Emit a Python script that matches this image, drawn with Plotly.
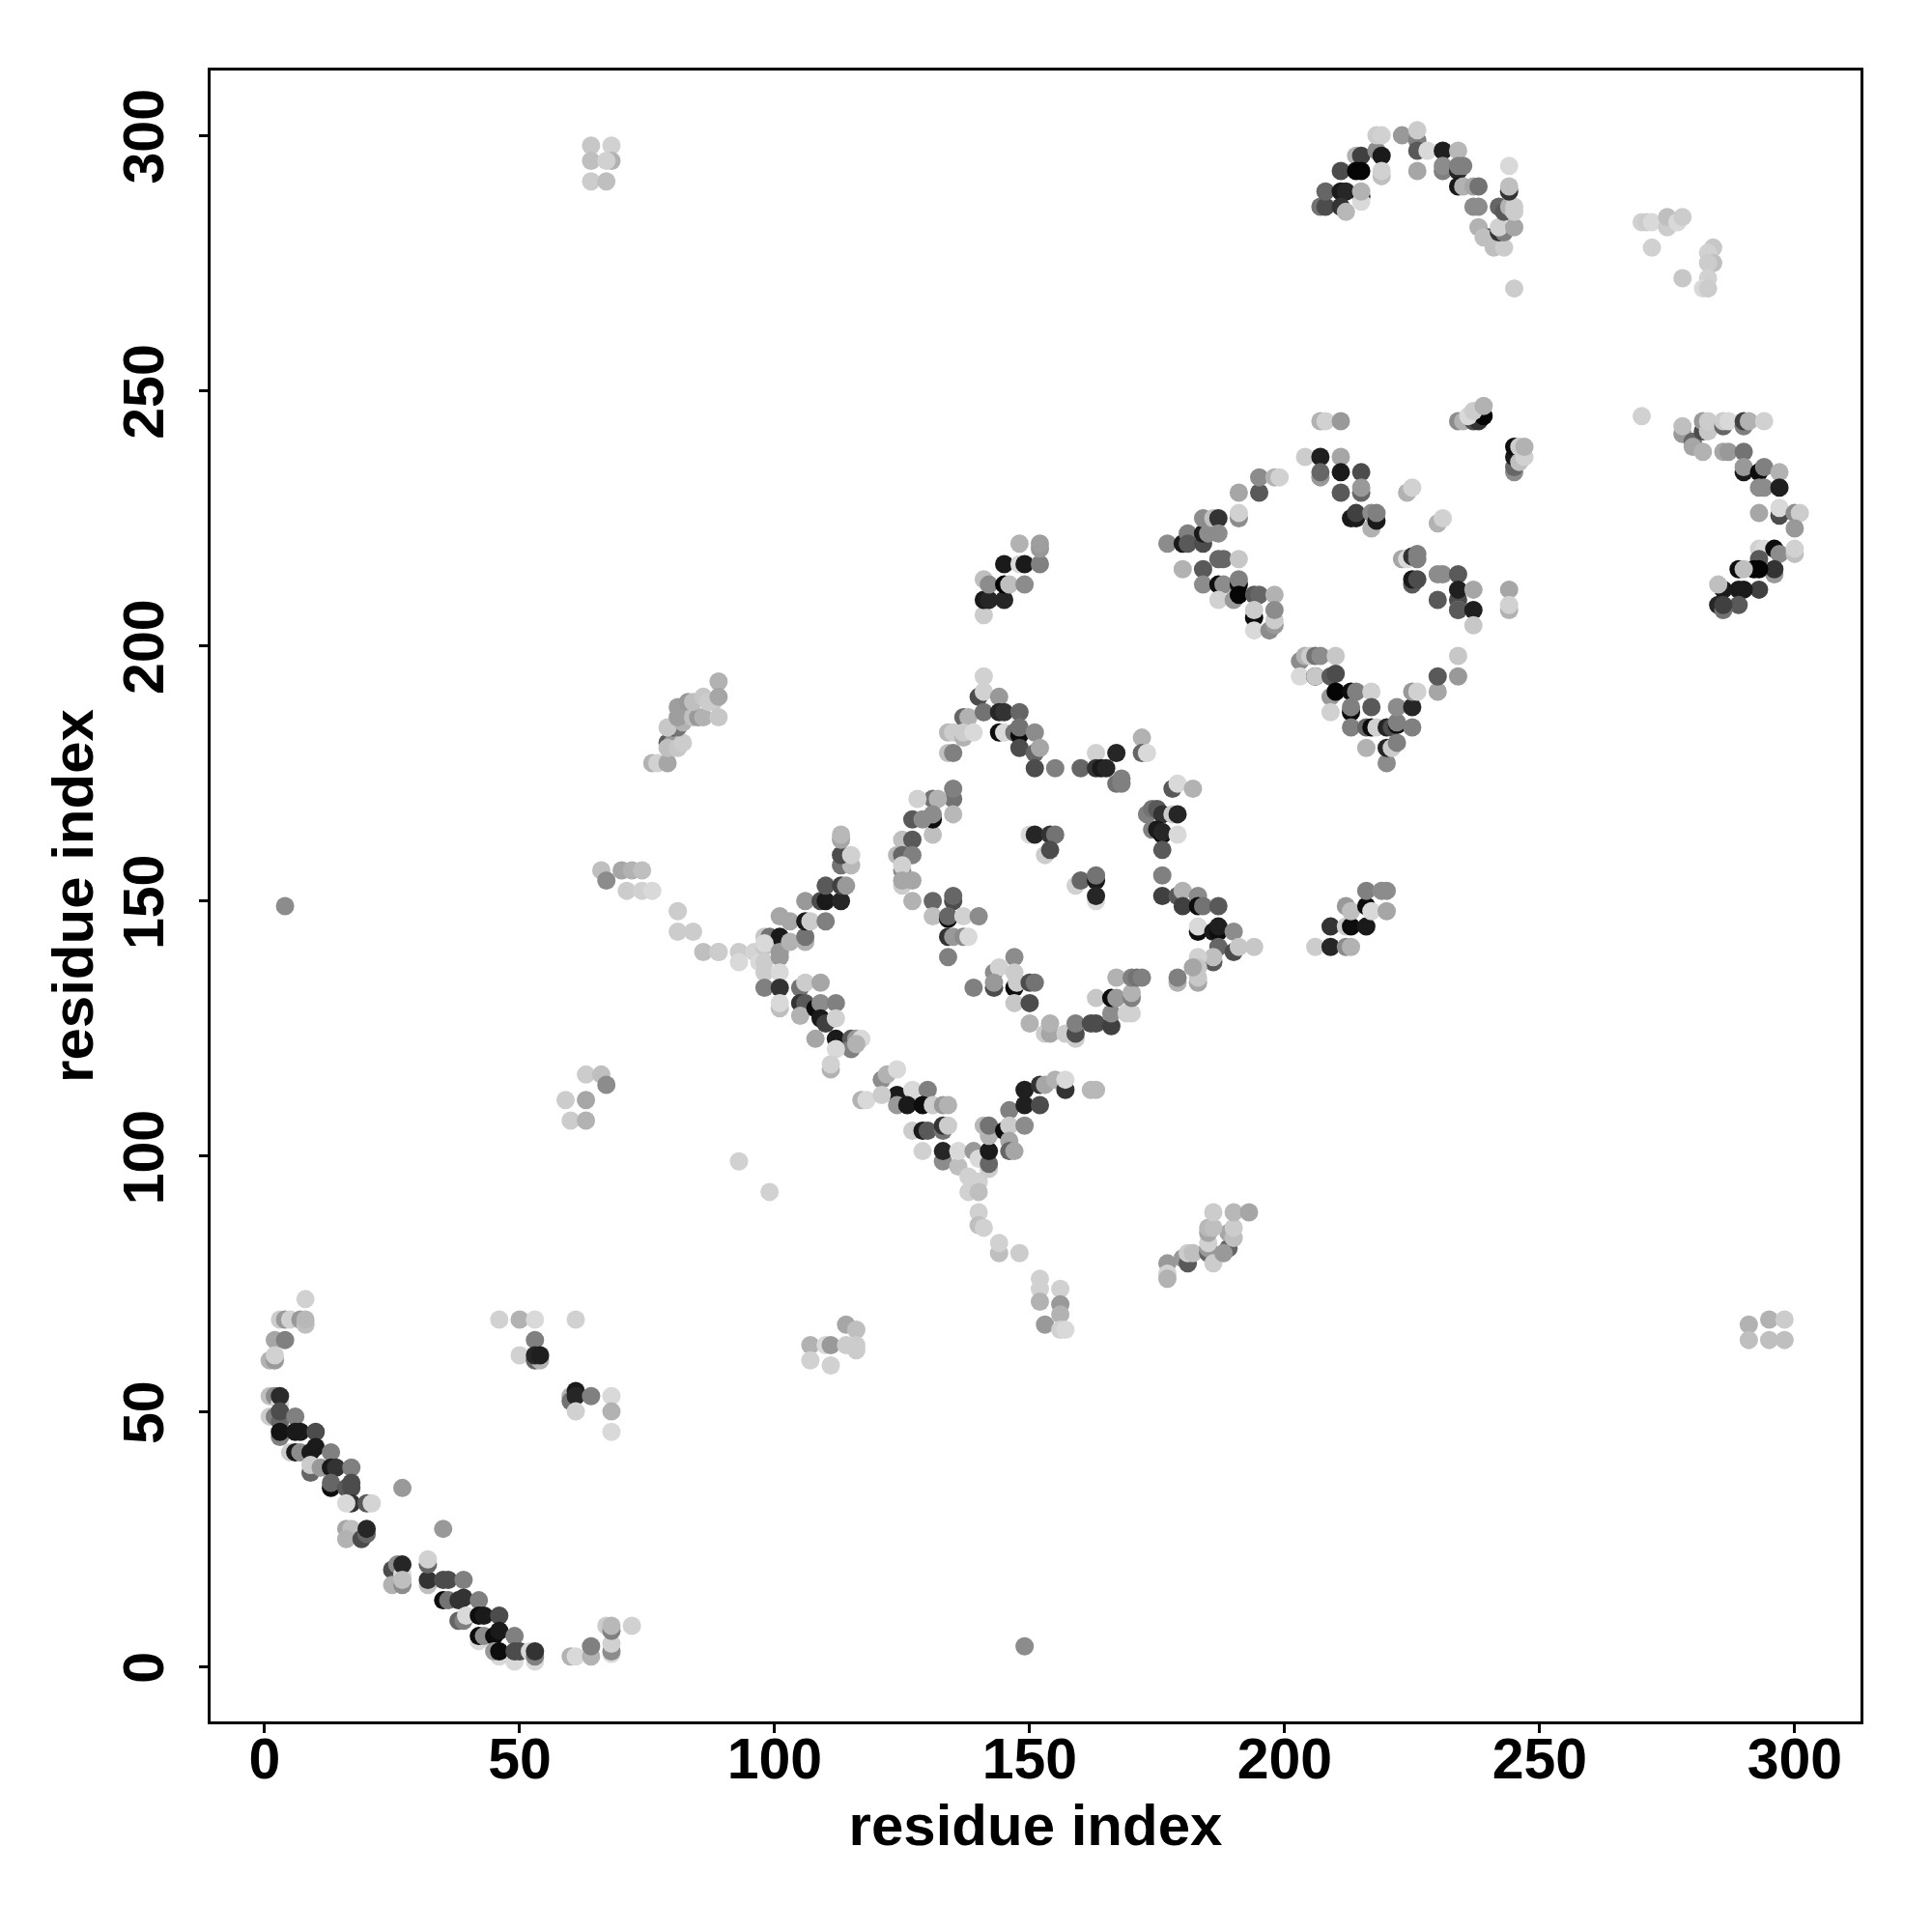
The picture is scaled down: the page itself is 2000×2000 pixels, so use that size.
import plotly.graph_objects as go

# each contact: (residue i, residue j, shade 0=black .. 1=white)
strand_low = [(8,72,.82),(3,68,.8),(4,68,.6),(5,68,.82),(7,68,.6),(8,67,.75),(8,68,.72),(2,64,.65),(4,64,.5),(1,60,.7),(2,60,.6),(2,61,.82),
(1,53,.75),(2,53,.55),(3,51.5,.85),(3,53,.17),(1,49,.8),(2,49,.5),(3,48,.4),(3,50,.3),(6,49,.5),(3,45,.5),(3,46,.08),(6,46,.1),(7,46,.1),(10,46,.3),
(5,42,.8),(6,42,.1),(7,42,.55),(9,42,.1),(10,43,.1),(13,42,.5),(9,38,.4),(9,39.5,.8),(11,39,.6),(13,39,.1),(14,39,.2),(17,39,.5),
(13,35,.05),(13,36,.4),(16,35,.35),(17,35,.3),(17,36,.3),(17,32,.2),(16,32,.85),(20,32,.35),(21,32,.83),(27,35,.6),(35,27,.6),
(16,27,.65),(17,27,.75),(16,25,.7),(19,25,.3),(20,26,.4),(20,27,.15),(25,19,.3),(26,20,.55),(27,18,.85),(27,20,.15),(25,16,.7),(27,16,.55),(27,17,.75),
(32,16,.75),(32,17,.2),(32,20,.4),(32,21,.82),(35,17,.3),(36,17,.3),(39,17,.5),(35,13,.05),(36,13,.45),(38,13,.2),(39,13.5,.2),(42,13,.5),
(38,9,.4),(39,9,.5),(39.5,10,.85),(42,10,.05),(43,10,.1),(46,10,.3),(42,5,.85),(42,6,.05),(43,6,.55),(45,6,.05),(46,7,.1),(49,6,.5),
(46,2,.85),(45,3,.6),(46,3,.05),(49,1,.85),(49,3,.3),(50,3,.3),(52,3,.85),(53,1,.85),(53,2,.5),(53,3,.2),
(60,2,.7),(61,2,.85),(64,2,.7),(64,4,.5),(67,8,.8),(68,2.5,.85),(68,3,.55),(68,4.5,.82),(68,7,.5),(68,8,.72),(72,8,.82)]
patch_low = [(46,68,.82),(50,68,.7),(53,68,.85),(61,68,.82),(53,64,.5),(50,61,.82),(53,60,.4),(54,60,.7),(53,61,.15),(54,61,.12),
(60,53,.7),(60,52,.45),(61,54,.1),(61,53,.15),(64,53,.5),(61,50,.82),(68,53,.85),(68,50,.7),(68,46,.85)]
isolated = [(4,149,.55),(149,4,.55),(93,99,.82),(99,93,.82),(245,270,.8),(270,245,.82)]
left_corners = [(64,298,.78),(64,295,.75),(64,291,.8),(68,298,.82),(68,295,.7),(67,291,.75),(67,295,.82),
(59,111,.8),(60,107,.8),(63,107,.7),(63,111,.65),(63,116,.8),(66,116,.75),(67,114,.55),
(291,67,.7),(291,64,.75),(295,64,.75),(295,68,.7),(298,68,.8),(298,64,.75),
(107,63,.7),(110,63,.85),(111,63,.6),(114,67,.65),(116,66,.75),(114,63,.8),(116,62,.8),(116,63,.8),(107,60,.82),(111,59,.82)]
chain_a = [(66,156,.75),(67,154,.55),(70,156,.65),(72,156,.7),(74,156,.75),(71,152,.8),(74,152,.82),(76,152,.85),(81,148,.8),(81,144,.8),(84,144,.8),(86,140,.75),(89,140,.8),
(76,177,.7),(77,177,.82),(79,177,.65),(79,181,.35),(80,181,.6),(79,180,.75),(81,180,.78),(82,181,.8),(80,184,.35),(81,184,.45),(79,184,.78),(82,185,.7),
(81,188,.62),(81,186,.62),(83,189,.6),(84,186,.75),(85,186,.6),(84,189,.75),(86,186,.7),(86,190,.78),(87,189,.8),(88,189,.8),(89,193,.7),(89,190,.65),(89,186,.78)]
chain_b = [(152,76,.82),(152,74,.82),(152,71.5,.7),(156,74,.82),(156,71,.6),(156,69,.7),(153,67,.6),(156,66,.82),(157,66,.85),
(177,79,.6),(177,77,.82),(177,76,.7),(180,80,.6),(181,79,.35),(181,81,.8),(182,81,.75),(185,81,.4),(185,82,.6),(186,79,.8),(185,83,.82),(189,82,.4),(188,81,.6),
(189,85,.65),(185,85,.65),(190,84,.75),(185,86,.72),(186,86,.75),(190,86,.8),(186,89,.8),(190,89,.72),(193,89,.65)]
diamond_nw = [(89,140,.8),(93,140,.8),(93,138,.85),(96,140,.83),(97,138,.85),(98,141,.78),(98,143,.78),(99,143,.45),(101,143,.1),(98,141.7,.85),(101,140,.6),(101,147,.65),(103,146,.65),(103,142,.7),(106,142,.7),(106,143,.45),
(106,150,.6),(106,146,.1),(107,146,.8),(110,146,.5),(109,150,.3),(110,150,.1),(113,150,.15),(110,153,.35),(113,153,.25),(114,153,.6),(113,157,.45),(115,157,.72),(113,159,.3),(115,159,.82),(113,162,.65),(113,163,.72),
(98,138,.8),(101,139,.6),(98,136,.8),(101,136,.85),(98,133,.5),(101,133,.2),(101,129,.75),(101,130,.85)]
diamond_sw = [(105,133,.45),(106,134,.8),(109,134,.65),(105,130,.2),(106,130,.35),(105,127.5,.7),(108,129,.05),(109,130,.55),(112,130,.5),(109,127,.1),(110,126,.25),(108,123,.65),
(112,127,.82),(112,123,.1),(115,123,.35),(116,123,.6),(117,123,.85),(115,121,.5),(116,122,.7),(112,121,.85),(111,117,.7),(111,118,.82),
(117,111,.7),(118,111,.85),(121,115,.55),(122,116,.7),(124,112,.1),(124,117,.85),(121,112,.8),(127,113,.85),(130,113,.5),(124,110,.6),(126,110,.1),(129,110,.05),(131,110,.8),(133,110,.6),(134,110,.7),
(127,105,.8),(129,105,.1),(130,105,.35),(133,105,.45),(133,106,.2),(134,106,.8),(129,101,.82),(133,99,.55),(133,101,.15),(136,98,.75),(136,101,.85)]
diamond_tail = [(139,101,.6),(140,99.5,.85),(138,96,.82),(140,95,.82),(138,93,.82),(140,93,.75),(140,89,.82),(140,86.5,.75),(141,86,.82),(144,81,.75),(144,83,.82),(148,81,.8)]
diamond_se = [(142,97.5,.8),(142,98.5,.4),(142,101,.1),(142,104,.7),(141,106,.72),(142,106,.45),(146,109,.5),(145,105,.05),(146,106,.8),(146,103,.65),(146,101,.4),(147,101,.65),(149,106,.55),
(149,110,.12),(149,113,.12),(152,110,.3),(152,114,.2),(153,114,.65),(155,115,.7),(157,113,.2),(157,115,.85),(162,113,.72),(163,113,.72)]
ring_top = [(141,194,.82),(140,190,.3),(141,191,.82),(144,190,.6),(137,186,.4),(138,186,.7),(141,187,.45),(144,187,.15),(145,187,.2),(148,187,.4),
(134,183,.72),(135,183,.8),(137,182,.7),(137,183,.8),(139,183,.85),(144,183,.05),(145,183,.85),(147,183,.45),(148,182.5,.05),(148,184,.45),(151,183,.55),
(134,179,.75),(135,179,.5),(148,180,.3),(151,179,.4),(152,180,.65),(151,176,.3),(155,176,.5),(160,176,.4),(163,179,.82),(167,179,.15),(163,176,.2),(164,176,.1),(165,176,.15),(167,173,.45),(168,173,.5),(168,174,.5),
(172,182,.7),(172,179,.4),(173,179,.85)]
ring_right = [(178,172,.35),(179,173,.85),(182,172,.7),(173,167,.5),(174,168,.45),(175,168,.35),(176,167,.2),(178,167,.8),(179,167,.15),(174,164,.5),(175,164,.1),(176,163,.05),(176,163.5,.15),(179,163,.85),(176,160,.35),(176,155,.5),(176,151,.25),
(179,151,.35),(180,152,.7),(183,151,.55),(180,149,.25),(183,149,.05),(184,149,.45),(187,149,.35),(183,144,.05),(183,145,.85),(186,144,.1),(187,144,.05),(187,145,.12),(190,144,.55),
(187,141,.4),(190,140,.3),(191,141,.78),(194,141,.78),(186,138,.35),(186,139,.75),(183,139,.82),(183,134,.65),(183,135,.78),(183,137,.78),(182,137,.65),(179,134,.7),(179,135,.5)]
ring_inner = [(150,163,.85),(151,163,.15),(154,163,.2),(155,163,.45),(153,159,.8),(154,160,.3),(159,153,.82),(160,154,.4),(163,154,.1),(163,155,.45),(163,150,.85),(163,151,.15)]
ring_left = [(135,170,.45),(135,172,.5),(135,167,.72),(131,170,.45),(132,170,.7),(128,170,.82),(131,163,.75),(131,166,.05),(131,167,.55),(127,166,.35),(129,166,.55),
(125,162,.75),(127,162,.35),(124,159,.72),(125,159,.4),(127,159,.5),(125,156,.55),(125,157,.82),(125,153,.8),(125,154,.65),(127,154,.65),
(127,150,.7),(131,150,.4),(135,150,.3),(135,151,.4),(131,147,.75),(134,146.5,.05),(134,147,.4),(137,147,.82),(140,147,.55),(134,143,.2),(135,143,.6),(137,143,.55),(138,143,.85),(134,139,.5)]
ring_bottom = [(147,139,.55),(143,136,.55),(144,137,.82),(147,136,.8),(139,133,.5),(143,133,.3),(143,134,.6),(147,133,.05),(147.5,134,.8),(150,134,.3),(151,134,.45),(147,130,.78),(150,130,.3),
(150,126,.7),(153,124,.8),(154,124,.65),(154,126,.7),(157,124,.8),(159,123,.8),(159,124,.3),(159,126,.5),(162,126,.3),(163,126,.3),(166,125.5,.25),(166,128,.55),(169,128,.82),(170,128,.82),
(163,131,.78),(166,131,.05),(167,131,.6),(170,131,.5),(170,132,.7),(167,135,.7),(170,135,.5),(171,135,.45),(172,135,.5)]
island_mid = [(141,206,.8),(141,209,.1),(142,209,.15),(145,209,.15),(141,213,.75),(142,212,.55),(145,212,.02),(146,212,.75),(149,212,.55),(145,216,.1),(148,216,.85),(149,216,.1),(152,216,.5),(148,220,.7),(152,219,.6),(152,220,.62),
(206,141,.8),(209,141,.15),(212,141,.55),(213,141,.7),(209,145,.2),(212,145,.8),(213,145,.05),(216,145,.1),(212,149,.6),(213,148,.75),(216,149,.05),(217,148,.85),(220,148,.65),(216,152,.5),(219,152,.55),(220,152,.55)]
loop_upper = [(207,244,.7),(208,244,.82),(211,244,.6),(204,237,.8),(207,237,.12),(211,237,.65),(207,233,.6),(207,234,.4),(211,234,.1),(211,230,.35),(215,234,.3),(215,230,.4),(215,231,.6),
(213,225,.1),(214,225,.1),(214,226,.25),(217,223,.7),(217,226,.55),(218,224.5,.1),(218,226,.5),(224,230,.7),(225,231,.82),(230,224,.7),(231,225,.82),
(223,217,.65),(224,217,.85),(225,217.5,.2),(226,217,.5),(226,218,.5),(225,212,.35),(225,213,.1),(226,213,.3),(230,214,.55),(231,214,.55),(234,214,.35),(230,209,.35),(234,209,.3),(234,211,.12),(237,211,.65),
(234,207,.7),(234,207,.35),(237,207,.12),(237,204,.78),(244,211,.65),(244,207,.7),(244,208,.82)]
loop_left = [(177,220,.55),(180,220,.1),(181,222,.5),(181,220,.35),(184,220,.3),(184,222,.1),(185,222,.55),(184,225,.55),(186,225,.75),(187,225,.2),(187,222,.55),
(191,225,.55),(191,226,.82),(191,230,.65),(195,230,.35),(195,233,.55),(198,233,.7),(199,233,.82),
(180,215,.7),(184,215,.35),(184,212,.55),(187,212,.05),(188,212,.55),(187,209,.82),(187,217,.4),(188,217,.4),(191,217,.78),(191,212,.05),(191,213,.5),
(190,209,.6),(191,210,.02),(194,210,.35),(195,210,.4),(198,210,.7),(194,205.5,.05),(194,207,.8),(194,203,.85),(197,203,.55),(198,204,.6),(198,205,.8),(198,207,.55)]
loop_lower = [(203,197,.55),(204,198,.7),(205,198,.8),(206,198,.45),(207,198,.55),(210,198,.78),(203,194,.85),(206,194,.05),(206,194,.78),(209,194,.35),(210,194.5,.3),(209,190,.6),(210,191,.02),(209,187,.82),
(213,191,.05),(214,191,.5),(217,191,.82),(213,187,.05),(213,188,.5),(217,188,.35),(213,184,.5),(216,184,.4),(217,184,.05),(218,184,.82),(216,180,.7),(220,184,.15),(221,184,.3),(222,184.5,.05),(222,185,.5),(225,184,.5),(222,188,.55),(225,188,.15),
(225,191,.6),(226,191,.82),(230,191,.65),(230,194,.35),(234,194,.6),(234,198,.78),(220,177,.55),(220,180,.15),(221,180,.8),(222,181,.5)]
cluster_240 = [(234,244,.55),(235,244,.7),(237,244,.3),(238,244,.2),(239,245,.02),(236,245,.85),(237,246,.8),(239,247,.7),
(245,234,.55),(245,235,.4),(245,237,.1),(245,239,.05),(246,236,.75),(247,237,.82),(246,239,.8),(247,239,.7)]
arc_top = [(207,286,.45),(208,286,.3),(208,289,.4),(211,293,.3),(211,289,.1),(212,289,.15),(211,286,.2),(212,285,.72),
(214,296,.7),(215,296,.25),(214,293,.02),(215,293,.02),(215,288,.05),(215,287,.85),(215,289,.7),(218,297,.55),(219,296,.1),(219,292,.75),(219,293,.82),
(218,300,.8),(219,300,.82),(223,300,.6),(226,299,.5),(226,301,.8),(226,297,.35),(228,297,.85),(226,293,.65),
(231,297,.12),(234,297,.72),(231,293,.5),(231,294,.55),(234,293,.15),(234,294,.5),(235,294,.5),(234,290,.1),(235,290,.7),(237,290,.65),(238,290,.45),(237,286,.55),(238,286,.55),
(238,282,.7),(240,280,.3),(239,280,.75),(241,278,.75),(243,278,.8),(242,281,.2),(243,281,.5),(242,282,.82),(245,282,.65),(242,286,.4),(243,285,.35),(244,286,.7),(245,285,.8),(245,286,.8),(244,289,.2),(244,290,.75),(244,294,.85)]
cluster_280 = [(270,283,.82),(271,283,.8),(272,283,.85),(275,282,.8),(275,284,.75),(277,283,.85),(278,284,.8),(272,278,.82),
(284,278,.78),(283,277,.82),(284,275,.75),(283,275,.8),(283,272,.82),(282,270,.85),(283,270,.8),(278,272,.78)]
arc_right = [(278,241.5,.6),(278,243,.75),(280,240,.4),(280,239,.65),(282,238,.7),(282,242,.3),(282,244,.6),(283,242,.78),(283,244,.8),
(286,243,.4),(286,244,.8),(287,244,.85),(290,243,.5),(290,244,.25),(291,244,.7),(294,244,.82),(286,238,.65),(287,238,.6),(290,238,.45),(290,234,.1),(290,235,.6),
(293,234,.05),(294,235,.5),(293,231,.55),(294,231,.55),(297,234,.7),(297,231,.12),(293,226,.65),(297,225.5,.3),(297,227,.85),(300,226,.55),(301,226,.8),(300,223,.6),
(293,219,.82),(294,219,.85),(293,217,.35),(296,219,.05),(297,218,.55),(300,218,.75),(300,219,.82),(296,214,.6),(296,215,.2),(292,215,.02),(293,215,.02),(289,215,.05),(290,215,.75),
(293,211,.25),(290,211,.1),(289,211,.1),(286,211,.1),(285,212,.75),(289,208,.35),(285,208,.15),(286,207,.45),(286,208,.25)]

tick_values = [0, 50, 100, 150, 200, 250, 300]
axis_label = "residue index"

clusters = [strand_low, patch_low, isolated, left_corners, chain_a, chain_b, diamond_nw, diamond_sw,
            diamond_tail, diamond_se, ring_top, ring_right, ring_inner, ring_left, ring_bottom,
            island_mid, loop_upper, loop_left, loop_lower, cluster_240, arc_top, cluster_280, arc_right]
points = [p for c in clusters for p in c]
xs = [p[0] for p in points]
ys = [p[1] for p in points]
cols = ["rgb({0},{0},{0})".format(round(p[2] * 255)) for p in points]

fig = go.Figure(go.Scatter(x=xs, y=ys, mode="markers",
                           marker=dict(size=19, color=cols, line=dict(width=0)),
                           hoverinfo="skip"))
tfont = dict(family="Liberation Sans", size=59, color="black", weight="bold")
lfont = dict(family="Liberation Sans", size=60, color="black", weight="bold")
common = dict(tickvals=tick_values, ticks="outside", ticklen=9, tickwidth=3.4, tickcolor="black",
              showline=True, mirror=True, linewidth=3.4, linecolor="black", showgrid=False, zeroline=False,
              tickfont=tfont, automargin=False)
fig.update_xaxes(range=[-10.6, 312.9], ticklabelstandoff=-24, title=dict(text=axis_label, font=lfont, standoff=15), **common)
fig.update_yaxes(range=[-10.73, 312.7], tickangle=-90, ticklabelstandoff=13, ticklabelshift=10, title=dict(text=axis_label, font=lfont, standoff=1), **common)
fig.update_layout(width=2000, height=2000, margin=dict(l=218, r=74, t=73, b=218, pad=0),
                  plot_bgcolor="white", paper_bgcolor="white", showlegend=False)
fig.write_html("out.html", post_script="document.body.style.margin='0';", config=dict(displayModeBar=False))
